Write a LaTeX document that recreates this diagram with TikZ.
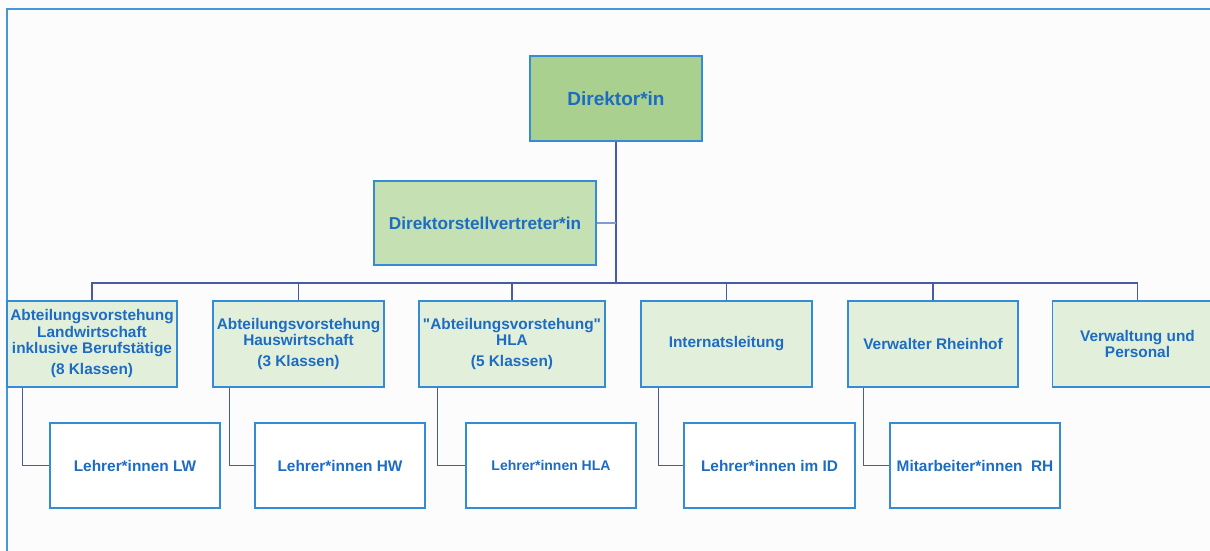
\documentclass[tikz,border=0pt]{standalone}
\usepackage{fontspec}
\setmainfont{Liberation Sans}
\newcommand\strq{\XeTeXglyph\XeTeXcharglyph"22\relax}
\definecolor{txtblue}{RGB}{28,108,196}
\definecolor{bordblue}{RGB}{52,140,214}
\definecolor{lineblue}{RGB}{72,92,165}
\definecolor{lightline}{RGB}{130,155,210}
\definecolor{framec}{RGB}{70,150,220}
\definecolor{gdark}{RGB}{169,208,142}
\definecolor{gmid}{RGB}{197,224,179}
\definecolor{glight}{RGB}{226,239,218}
\definecolor{bgc}{RGB}{252,252,252}
\tikzset{
  box/.style={draw=bordblue, line width=1.3pt, rectangle, inner sep=0pt, align=center,
    text=txtblue, font=\bfseries\fontsize{15.4}{16.5}\selectfont},
  lvtwo/.style={box, fill=glight, minimum height=86pt},
  lvthree/.style={box, fill=white, minimum width=170pt, minimum height=85pt},
  conn/.style={draw=lineblue, line width=1.3pt},
  lconn/.style={draw=lightline, line width=1.3pt},
}
\begin{document}
\begin{tikzpicture}[x=1pt,y=-1pt]
\useasboundingbox (0,0) rectangle (1210,551);
\clip (0,0) rectangle (1210,551);
\fill[bgc] (0,0) rectangle (1210,551);
\draw[framec, line width=1.1pt] (7,560) -- (7,9) -- (1220,9);

\node[box, fill=gdark, minimum width=172pt, minimum height=85pt, font=\bfseries\fontsize{19}{22}\selectfont] (dir) at (616,98.5) {Direktor*in};
\node[box, fill=gmid, minimum width=222pt, minimum height=84pt, font=\bfseries\fontsize{17.2}{20}\selectfont] (stv) at (485,223) {Direktorstellvertreter*in};

\node[lvtwo, minimum width=170pt] (a1) at (92,344) {Abteilungsvorstehung\\Landwirtschaft\\inklusive Berufstätige\\[4.5pt](8 Klassen)};
\node[lvtwo, minimum width=171pt] (a2) at (298.5,344) {Abteilungsvorstehung\\Hauswirtschaft\\[4.5pt](3 Klassen)};
\node[lvtwo, minimum width=186pt] (a3) at (512,344) {\strq Abteilungsvorstehung\strq\\HLA\\[4.5pt](5 Klassen)};
\node[lvtwo, minimum width=171pt] (a4) at (726.5,344) {Internatsleitung};
\node[lvtwo, minimum width=170pt] (a5) at (933,344) {Verwalter Rheinhof};
\node[lvtwo, minimum width=170pt, font=\bfseries\fontsize{15.4}{15.8}\selectfont] (a6) at (1137.5,344) {Verwaltung und\\Personal};

\node[lvthree] (b1) at (135,465.5) {Lehrer*innen LW};
\node[lvthree] (b2) at (340,465.5) {Lehrer*innen HW};
\node[lvthree, font=\bfseries\fontsize{14}{16}\selectfont] (b3) at (551,465.5) {Lehrer*innen HLA};
\node[lvthree, minimum width=171pt] (b4) at (769.5,465.5) {Lehrer*innen im ID};
\node[lvthree] (b5) at (975,465.5) {Mitarbeiter*innen\ \ RH};

\coordinate (bus) at (616,283);
\draw[conn, line width=2.6pt] (dir.south) -- (bus);
\draw[lconn] (stv.east) -- (stv.east -| dir.south);
\draw[conn] (a1.north) -- (a1.north |- bus) -- (a6.north |- bus) -- (a6.north);
\foreach \n in {a2,a3,a4,a5} { \draw[conn] (\n.north) -- (\n.north |- bus); }

\draw[conn] ([xshift=16pt]a1.south west) |- (b1.west);
\draw[conn] ([xshift=17pt]a2.south west) |- (b2.west);
\draw[conn] ([xshift=19pt]a3.south west) |- (b3.west);
\draw[conn] ([xshift=18pt]a4.south west) |- (b4.west);
\draw[conn] ([xshift=16pt]a5.south west) |- (b5.west);
\end{tikzpicture}
\end{document}
